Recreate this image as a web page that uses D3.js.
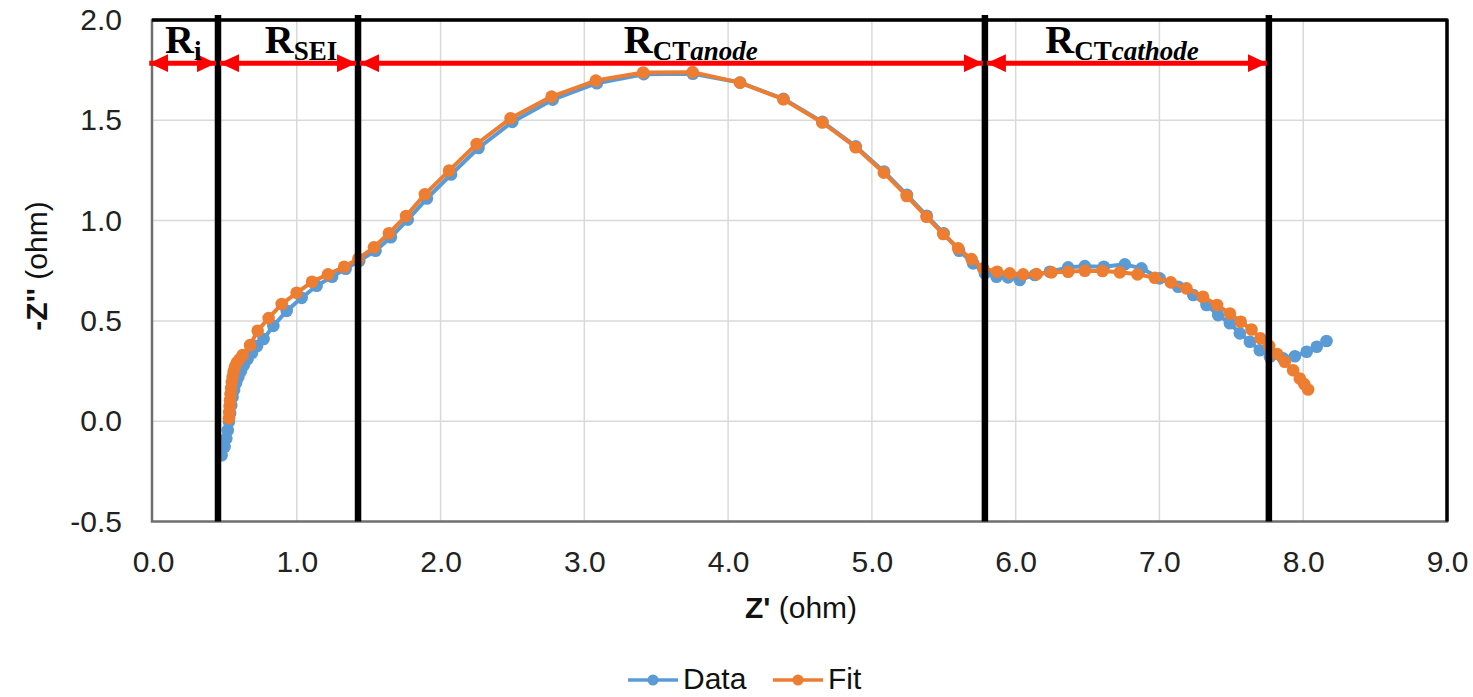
<!DOCTYPE html>
<html>
<head>
<meta charset="utf-8">
<script src="https://cdn.jsdelivr.net/npm/d3@7"></script>
<style>
  body { margin: 0; background: #fff; }
  svg { display: block; }
  .tick text { font-family: "Liberation Sans", Arial, sans-serif; font-size: 30px; fill: #222; }
</style>
</head>
<body>
<svg id="chart" width="1473" height="697"></svg>
<script>
// Nyquist data (Z' , -Z'')
const dataX = [0.477,0.498,0.510,0.520,0.528,0.536,0.544,0.553,0.564,0.578,0.594,0.612,0.632,0.658,0.688,0.724,0.769,0.837,0.930,1.034,
  1.138,1.246,1.340,1.435,1.548,1.654,1.772,1.905,2.073,2.264,2.499,2.780,3.087,3.413,3.755,4.084,4.385,4.656,4.888,5.085,
  5.244,5.382,5.499,5.607,5.704,5.786,5.867,5.947,6.029,6.133,6.238,6.365,6.481,6.613,6.759,6.875,7.002,7.130,7.235,7.327,
  7.408,7.490,7.559,7.629,7.698,7.768,7.860,7.942,8.024,8.094,8.162]
const dataY = [-0.170,-0.128,-0.086,-0.045,-0.003,0.040,0.080,0.120,0.155,0.190,0.220,0.250,0.280,0.310,0.340,0.375,0.410,0.475,0.550,0.615,
  0.675,0.720,0.760,0.800,0.850,0.917,1.005,1.110,1.230,1.362,1.492,1.603,1.685,1.730,1.732,1.688,1.607,1.492,1.370,1.244,
  1.128,1.024,0.937,0.850,0.787,0.737,0.720,0.717,0.704,0.729,0.745,0.767,0.773,0.770,0.782,0.762,0.712,0.670,0.629,0.579,
  0.529,0.488,0.438,0.396,0.354,0.321,0.313,0.324,0.346,0.371,0.400]

const fitX = [0.528,0.530,0.533,0.536,0.539,0.543,0.548,0.554,0.561,0.570,0.583,0.601,0.624,0.675,0.728,0.804,0.895,0.999,1.106,1.217,
  1.330,1.428,1.537,1.641,1.760,1.891,2.059,2.251,2.487,2.772,3.080,3.409,3.753,4.082,4.384,4.655,4.887,5.083,5.242,5.380,
  5.496,5.600,5.693,5.774,5.871,5.959,6.052,6.145,6.249,6.365,6.481,6.604,6.724,6.847,6.968,7.079,7.188,7.303,7.401,7.490,
  7.565,7.640,7.703,7.763,7.818,7.872,7.930,7.976,8.007,8.034]
const fitY = [0.015,0.045,0.075,0.105,0.135,0.165,0.195,0.222,0.248,0.272,0.292,0.308,0.330,0.379,0.451,0.514,0.584,0.640,0.695,0.732,
  0.770,0.810,0.867,0.937,1.023,1.131,1.249,1.382,1.510,1.618,1.698,1.738,1.740,1.688,1.605,1.489,1.366,1.239,1.123,1.019,
  0.933,0.862,0.808,0.762,0.745,0.737,0.732,0.733,0.742,0.745,0.750,0.749,0.742,0.732,0.715,0.692,0.662,0.620,0.579,0.537,
  0.496,0.457,0.413,0.375,0.335,0.296,0.254,0.213,0.185,0.158]

const xTicks = [0, 1, 2, 3, 4, 5, 6, 7, 8, 9]
const yTicks = [-0.5, 0, 0.5, 1.0, 1.5, 2.0]

// region boundaries and labels
const boundaries = [0.452, 1.426, 5.786, 7.761]
const arrowSpans = [[-0.04, 0.452], [0.452, 1.426], [1.426, 5.786], [5.786, 7.761]]
const regionLabels = [
  { x: 0.21, sub: "i", italic: "" },
  { x: 1.03, sub: "SEI", italic: "" },
  { x: 3.74, sub: "CT", italic: "anode" },
  { x: 6.74, sub: "CT", italic: "cathode" }
]
const arrowLevel = 1.785

const series = [
  { name: "Data", xs: dataX, ys: dataY, color: "#5B9BD5" },
  { name: "Fit", xs: fitX, ys: fitY, color: "#ED7D31" }
]

const plotLeft = 153, plotRight = 1447, plotTop = 20, plotBottom = 521.5
const fmt = (d) => d3.format(".1f")(d).replace("\u2212", "-")

const svg = d3.select("#chart")
const x = d3.scaleLinear().domain([0, 9]).range([plotLeft, plotRight])
const y = d3.scaleLinear().domain([-0.5, 2]).range([plotBottom, plotTop])

// gridlines
svg.append("g")
  .selectAll("line")
  .data(xTicks.slice(1, -1))
  .join("line")
  .attr("x1", (d) => x(d)).attr("x2", (d) => x(d))
  .attr("y1", plotTop).attr("y2", plotBottom)
  .attr("stroke", "#d9d9d9").attr("stroke-width", 1.5)
svg.append("g")
  .selectAll("line")
  .data(yTicks.slice(1, -1))
  .join("line")
  .attr("x1", plotLeft).attr("x2", plotRight)
  .attr("y1", (d) => y(d)).attr("y2", (d) => y(d))
  .attr("stroke", "#d9d9d9").attr("stroke-width", 1.5)

// plot frame
svg.append("rect")
  .attr("x", plotLeft - 1).attr("y", plotTop).attr("width", plotRight - plotLeft + 1).attr("height", plotBottom - plotTop)
  .attr("fill", "none").attr("stroke", "#6f6f6f").attr("stroke-width", 2.5)
svg.append("path")
  .attr("d", `M${plotLeft - 1},${plotTop} L${plotRight},${plotTop} L${plotRight},${plotBottom}`)
  .attr("fill", "none").attr("stroke", "#000").attr("stroke-width", 3.5)
  .attr("stroke-linejoin", "round")

// axes
const xAxis = svg.append("g")
  .attr("transform", `translate(0,${plotBottom})`)
  .call(d3.axisBottom(x).tickValues(xTicks).tickFormat(fmt).tickSize(0).tickPadding(29))
xAxis.select(".domain").remove()

const yAxis = svg.append("g")
  .attr("transform", `translate(${plotLeft},0)`)
  .call(d3.axisLeft(y).tickValues(yTicks).tickFormat(fmt).tickSize(0).tickPadding(31))
yAxis.select(".domain").remove()

// axis titles
const xt = svg.append("text")
  .attr("x", 801).attr("y", 618)
  .attr("text-anchor", "middle")
  .style("font-family", "Liberation Sans, Arial, sans-serif").style("font-size", "30px").attr("fill", "#111")
xt.append("tspan").attr("font-weight", "bold").text("Z'")
xt.append("tspan").text(" (ohm)")

const yt = svg.append("text")
  .attr("transform", "translate(47,266) rotate(-90)")
  .attr("text-anchor", "middle")
  .style("font-family", "Liberation Sans, Arial, sans-serif").style("font-size", "30px").attr("fill", "#111")
yt.append("tspan").attr("font-weight", "bold").text("-Z''")
yt.append("tspan").text(" (ohm)")

// series
const line = d3.line()
series.forEach((s) => {
  const pts = s.xs.map((v, i) => [x(v), y(s.ys[i])])
  const g = svg.append("g")
  g.append("path")
    .attr("d", line(pts))
    .attr("fill", "none").attr("stroke", s.color).attr("stroke-width", 4)
    .attr("stroke-linejoin", "round")
  g.selectAll("circle")
    .data(pts)
    .join("circle")
    .attr("cx", (d) => d[0]).attr("cy", (d) => d[1])
    .attr("r", 6.3).attr("fill", s.color)
})

// region boundary lines
svg.append("g")
  .selectAll("line")
  .data(boundaries)
  .join("line")
  .attr("x1", (d) => x(d)).attr("x2", (d) => x(d))
  .attr("y1", 15).attr("y2", plotBottom)
  .attr("stroke", "#000").attr("stroke-width", 6.5)

// red double arrows
const defs = svg.append("defs")
defs.append("marker")
  .attr("id", "head")
  .attr("markerUnits", "userSpaceOnUse")
  .attr("markerWidth", 19).attr("markerHeight", 18)
  .attr("viewBox", "0 0 19 18")
  .attr("refX", 19).attr("refY", 9)
  .attr("orient", "auto-start-reverse")
  .append("path")
  .attr("d", "M0,0 L19,9 L0,18 Z")
  .attr("fill", "#ff0000")

svg.append("g")
  .selectAll("line")
  .data(arrowSpans)
  .join("line")
  .attr("x1", (d) => x(d[0]) + 2).attr("x2", (d) => x(d[1]) - 2)
  .attr("y1", y(arrowLevel)).attr("y2", y(arrowLevel))
  .attr("stroke", "#ff0000").attr("stroke-width", 5)
  .attr("marker-start", "url(#head)").attr("marker-end", "url(#head)")

// region labels
regionLabels.forEach((l) => {
  const t = svg.append("text")
    .attr("x", x(l.x)).attr("y", 53)
    .attr("text-anchor", "middle")
    .style("font-family", "Liberation Serif, Times New Roman, serif")
    .attr("font-weight", "bold").attr("fill", "#000")
  t.append("tspan").style("font-size", "40px").text("R")
  t.append("tspan").style("font-size", "27px").attr("dy", 7).text(l.sub)
  if (l.italic) t.append("tspan").style("font-size", "27px").attr("font-style", "italic").text(l.italic)
})

// legend
const legend = [
  { name: "Data", color: "#5B9BD5", x0: 628 },
  { name: "Fit", color: "#ED7D31", x0: 773 }
]
legend.forEach((d) => {
  const g = svg.append("g")
  g.append("line")
    .attr("x1", d.x0).attr("x2", d.x0 + 50).attr("y1", 680).attr("y2", 680)
    .attr("stroke", d.color).attr("stroke-width", 3.5)
  g.append("circle").attr("cx", d.x0 + 25).attr("cy", 680).attr("r", 5.5).attr("fill", d.color)
  g.append("text")
    .attr("x", d.x0 + 55).attr("y", 689)
    .style("font-family", "Liberation Sans, Arial, sans-serif").style("font-size", "30px").attr("fill", "#111")
    .text(d.name)
})
</script>
</body>
</html>
